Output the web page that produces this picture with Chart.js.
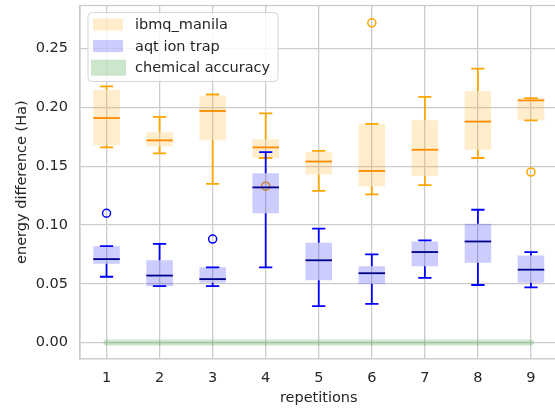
<!DOCTYPE html>
<html>
<head>
<meta charset="utf-8">
<script src="https://cdn.jsdelivr.net/npm/chart.js@4/dist/chart.umd.min.js"></script>
<style>
  html, body { margin: 0; padding: 0; background: #fff; overflow: hidden; }
  #wrap { width: 563px; height: 408px; }
</style>
</head>
<body>
<div id="wrap"><canvas id="chart" width="563" height="408"></canvas></div>
<script>
let reps = ['1', '2', '3', '4', '5', '6', '7', '8', '9'];

// ibmq_manila box stats
let manilaLow = [0.166, 0.161, 0.135, 0.157, 0.129, 0.126, 0.134, 0.157, 0.189];
let manilaQ1 = [0.168, 0.167, 0.172, 0.157, 0.143, 0.133, 0.142, 0.164, 0.189];
let manilaMedian = [0.191, 0.172, 0.197, 0.166, 0.154, 0.146, 0.164, 0.188, 0.206];
let manilaQ3 = [0.215, 0.179, 0.210, 0.173, 0.162, 0.186, 0.189, 0.214, 0.208];
let manilaHigh = [0.218, 0.192, 0.211, 0.195, 0.163, 0.186, 0.209, 0.233, 0.208];
let manilaOutliers = [{x: '4', y: 0.133}, {x: '6', y: 0.272}, {x: '9', y: 0.145}];

// aqt ion trap box stats
let aqtLow = [0.056, 0.048, 0.048, 0.064, 0.031, 0.033, 0.055, 0.049, 0.047];
let aqtQ1 = [0.067, 0.048, 0.051, 0.110, 0.053, 0.050, 0.065, 0.068, 0.051];
let aqtMedian = [0.071, 0.057, 0.054, 0.132, 0.070, 0.059, 0.077, 0.086, 0.062];
let aqtQ3 = [0.082, 0.070, 0.064, 0.144, 0.085, 0.065, 0.086, 0.101, 0.074];
let aqtHigh = [0.082, 0.084, 0.064, 0.162, 0.097, 0.075, 0.087, 0.113, 0.077];
let aqtOutliers = [{x: '1', y: 0.110}, {x: '3', y: 0.088}];

let chemAccuracy = [0, 0, 0, 0, 0, 0, 0, 0, 0];
let yTickValues = [0, 0.05, 0.10, 0.15, 0.20, 0.25];

let font = 'DejaVu Sans';
let textColor = '#262626';
let gridColor = '#cccccc';

let boxes = [
    {low: manilaLow, q1: manilaQ1, med: manilaMedian, q3: manilaQ3, high: manilaHigh, color: '#ffa500', medColor: '#ff8c00'},
    {low: aqtLow, q1: aqtQ1, med: aqtMedian, q3: aqtQ3, high: aqtHigh, color: '#0000ff', medColor: '#00008b'}
];

// whiskers, caps and medians, placed through the chart scales
let whiskerPlugin = {
    id: 'whiskers',
    afterDatasetsDraw(chart) {
        let ctx = chart.ctx;
        let xs = chart.scales.x, ys = chart.scales.y;
        let unit = xs.getPixelForValue(1) - xs.getPixelForValue(0);
        let capHalf = unit * 0.125, boxHalf = unit * 0.25;
        ctx.save();
        ctx.lineWidth = 1.8;
        boxes.forEach(b => {
            reps.forEach((r, i) => {
                let x = xs.getPixelForValue(i);
                let yLo = ys.getPixelForValue(b.low[i]), yHi = ys.getPixelForValue(b.high[i]);
                ctx.strokeStyle = b.color;
                ctx.beginPath();
                ctx.moveTo(x, ys.getPixelForValue(b.q3[i]));
                ctx.lineTo(x, yHi);
                ctx.moveTo(x, ys.getPixelForValue(b.q1[i]));
                ctx.lineTo(x, yLo);
                ctx.moveTo(x - capHalf, yHi);
                ctx.lineTo(x + capHalf, yHi);
                ctx.moveTo(x - capHalf, yLo);
                ctx.lineTo(x + capHalf, yLo);
                ctx.stroke();
                ctx.strokeStyle = b.medColor;
                ctx.beginPath();
                ctx.moveTo(x - boxHalf, ys.getPixelForValue(b.med[i]));
                ctx.lineTo(x + boxHalf, ys.getPixelForValue(b.med[i]));
                ctx.stroke();
            });
        });
        ctx.restore();
    }
};

let framePlugin = {
    id: 'frame',
    afterDraw(chart) {
        let ctx = chart.ctx;
        let a = chart.chartArea;
        ctx.save();
        ctx.strokeStyle = gridColor;
        ctx.lineWidth = 1.3;
        ctx.strokeRect(a.left, a.top, a.right - a.left, a.bottom - a.top);

        // legend
        let lx = a.left + 8, ly = a.top + 7;
        ctx.beginPath();
        ctx.roundRect(lx, ly, 190, 69, 4);
        ctx.fillStyle = 'rgba(255,255,255,0.8)';
        ctx.fill();
        ctx.strokeStyle = 'rgba(204,204,204,0.8)';
        ctx.lineWidth = 1;
        ctx.stroke();
        let items = chart.data.datasets.filter(d => d.legendColor);
        ctx.font = '14.5px "' + font + '"';
        ctx.textBaseline = 'middle';
        items.forEach((d, k) => {
            let cy = ly + 12 + k * 21.6;
            ctx.fillStyle = d.legendColor;
            if (k === 2) ctx.fillRect(lx + 3, cy - 8, 35, 16);
            else ctx.fillRect(lx + 5, cy - 6, 30, 12);
            ctx.fillStyle = textColor;
            ctx.fillText(d.label, lx + 47, cy + 1);
        });
        ctx.restore();
    }
};

let ctx = document.getElementById('chart').getContext('2d');
let chart = new Chart(ctx, {
    type: 'bar',
    data: {
        labels: reps,
        datasets: [{
            label: 'ibmq_manila',
            data: reps.map((r, i) => [manilaQ1[i], manilaQ3[i]]),
            backgroundColor: 'rgba(255,165,0,0.2)',
            legendColor: 'rgba(255,165,0,0.2)',
            borderWidth: 0,
            grouped: false,
            barPercentage: 0.5,
            categoryPercentage: 1,
            order: 5
        }, {
            label: 'aqt ion trap',
            data: reps.map((r, i) => [aqtQ1[i], aqtQ3[i]]),
            backgroundColor: 'rgba(0,0,255,0.2)',
            legendColor: 'rgba(0,0,255,0.2)',
            borderWidth: 0,
            grouped: false,
            barPercentage: 0.5,
            categoryPercentage: 1,
            order: 3
        }, {
            type: 'line',
            label: 'chemical accuracy',
            data: chemAccuracy,
            borderColor: 'rgba(0,128,0,0.2)',
            legendColor: 'rgba(0,128,0,0.2)',
            borderWidth: 6,
            borderCapStyle: 'round',
            pointRadius: 0,
            order: 6
        }, {
            type: 'scatter',
            label: 'manila outliers',
            data: manilaOutliers,
            pointStyle: 'circle',
            pointRadius: 4,
            borderColor: '#ffa500',
            borderWidth: 1.5,
            backgroundColor: 'rgba(0,0,0,0)',
            order: 4
        }, {
            type: 'scatter',
            label: 'aqt outliers',
            data: aqtOutliers,
            pointStyle: 'circle',
            pointRadius: 4,
            borderColor: '#0000ff',
            borderWidth: 1.5,
            backgroundColor: 'rgba(0,0,0,0)',
            order: 2
        }]
    },
    options: {
        responsive: false,
        animation: false,
        layout: {padding: {top: 4, right: 0, left: 0, bottom: 0}},
        plugins: {
            legend: {display: false},
            tooltip: {enabled: false}
        },
        scales: {
            x: {
                type: 'category',
                offset: true,
                grid: {offset: false, color: gridColor, lineWidth: 1.3, drawTicks: false},
                border: {color: gridColor, width: 1.3},
                ticks: {color: textColor, font: {family: font, size: 14.5}, padding: 11},
                title: {display: true, text: 'repetitions', color: textColor,
                        font: {family: font, size: 14.5}, padding: {top: 0, bottom: 1}},
                afterFit: s => { s.height = 49.3; s.paddingLeft = 0; s.paddingRight = 0; }
            },
            y: {
                min: -0.0137,
                max: 0.2867,
                grid: {color: gridColor, lineWidth: 1.3, drawTicks: false},
                border: {color: gridColor, width: 1.3},
                ticks: {color: textColor, font: {family: font, size: 14.5}, padding: 12,
                        callback: v => v.toFixed(2)},
                afterBuildTicks: s => { s.ticks = yTickValues.map(v => ({value: v})); },
                title: {display: true, text: 'energy difference (Ha)', color: textColor,
                        font: {family: font, size: 14.5}, padding: {top: 14, bottom: 0}},
                afterFit: s => { s.width = 80; s.paddingTop = 0; s.paddingBottom = 0; }
            }
        }
    },
    plugins: [whiskerPlugin, framePlugin]
});
</script>
</body>
</html>
